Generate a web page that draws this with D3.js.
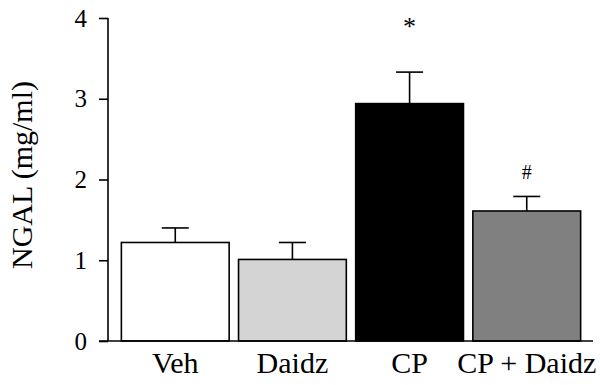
<!DOCTYPE html>
<html><head><meta charset="utf-8">
<script src="https://cdn.jsdelivr.net/npm/d3@7"></script>
<style>body{margin:0;background:#fff}svg{display:block}</style>
</head><body>
<svg id="c" width="600" height="385"></svg>
<script>
const categories = ["Veh", "Daidz", "CP", "CP + Daidz"];
const means = [1.22, 1.01, 2.94, 1.61];
const errors = [0.18, 0.21, 0.39, 0.18];
const fills = ["#ffffff", "#d4d4d4", "#000000", "#808080"];
const marks = ["", "", "*", "#"];
const yTicks = [0, 1, 2, 3, 4];
const yLabel = "NGAL (mg/ml)";

const svg = d3.select("#c");
const font = "'Liberation Serif','DejaVu Serif',serif";
const x = d3.scaleBand().domain(categories).range([112, 590]).padding(0.08);
const y = d3.scaleLinear().domain([0, 4]).range([341, 18]);

// bars
svg.selectAll("rect.bar").data(categories).enter().append("rect")
  .attr("x", d => x(d)).attr("width", x.bandwidth())
  .attr("y", (d, i) => y(means[i])).attr("height", (d, i) => y(0) - y(means[i]))
  .attr("fill", (d, i) => fills[i]).attr("stroke", "#000").attr("stroke-width", 1.6);

// error bars
const capW = 27;
categories.forEach((d, i) => {
  const cx = x(d) + x.bandwidth() / 2;
  svg.append("line").attr("x1", cx).attr("x2", cx)
    .attr("y1", y(means[i])).attr("y2", y(means[i] + errors[i]))
    .attr("stroke", "#000").attr("stroke-width", 1.6);
  svg.append("line").attr("x1", cx - capW / 2).attr("x2", cx + capW / 2)
    .attr("y1", y(means[i] + errors[i])).attr("y2", y(means[i] + errors[i]))
    .attr("stroke", "#000").attr("stroke-width", 1.6);
  if (marks[i]) {
    svg.append("text").attr("x", cx).attr("y", marks[i] === "*" ? 35 : 179)
      .attr("text-anchor", "middle").attr("font-family", font)
      .attr("font-size", marks[i] === "*" ? 26 : 20).text(marks[i]);
  }
});

// y axis
const yAxis = d3.axisLeft(y).tickValues(yTicks).tickSize(9).tickPadding(12).tickFormat(d3.format("d"));
const gy = svg.append("g").attr("transform", "translate(108,0)").call(yAxis);
gy.select(".domain").attr("stroke-width", 1.6).attr("d", `M-0,${y(4)}V${y(0)}`);
gy.selectAll(".tick line").attr("stroke-width", 1.6);
gy.selectAll(".tick text").attr("font-family", font).attr("font-size", 25).attr("fill", "#000");

// x axis baseline
const xAxis = d3.axisBottom(x).tickSize(0).tickPadding(12);
const gx = svg.append("g").attr("transform", `translate(0,${y(0)})`).call(xAxis);
gx.select(".domain").attr("stroke-width", 1.6).attr("d", "M99,0H593");
gx.selectAll(".tick text").attr("font-family", font).attr("font-size", 30).attr("fill", "#000")
  .attr("dy", null).attr("y", 32);

// y label
svg.append("text").attr("transform", `translate(32,175) rotate(-90)`)
  .attr("text-anchor", "middle").attr("font-family", font).attr("font-size", 30).text(yLabel);
</script>
</body></html>
